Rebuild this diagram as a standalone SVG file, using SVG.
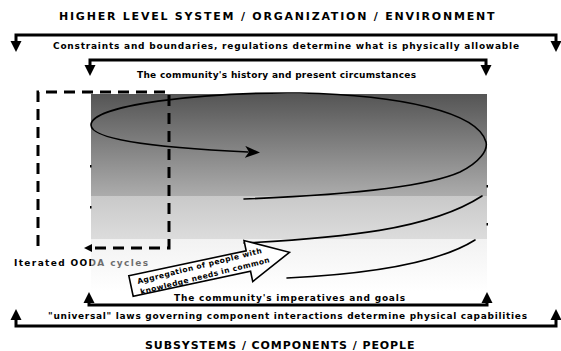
<svg xmlns="http://www.w3.org/2000/svg" width="561" height="351" viewBox="0 0 561 351">
<style>
.t{font-family:"DejaVu Sans","Liberation Sans",sans-serif;font-weight:bold;fill:#000}
.cap{font-family:"DejaVu Sans","Liberation Sans",sans-serif;font-weight:bold;font-size:11px;fill:#000;letter-spacing:1.5px}
.s{font-size:9px}
.a{font-size:7.5px}
.br{fill:none;stroke:#000;stroke-width:3;marker-start:url(#head);marker-end:url(#head)}
.sp{fill:none;stroke:#000;stroke-width:1.6;stroke-linecap:round}
.tick{fill:#000}
</style>
<defs>
<linearGradient id="g1" x1="0" y1="0" x2="0" y2="1">
<stop offset="0" stop-color="#555"/><stop offset="1" stop-color="#acacac"/>
</linearGradient>
<linearGradient id="g2" x1="0" y1="0" x2="0" y2="1">
<stop offset="0" stop-color="#c9c9c9"/><stop offset="1" stop-color="#dcdcdc"/>
</linearGradient>
<linearGradient id="g3" x1="0" y1="0" x2="0" y2="1">
<stop offset="0" stop-color="#e2e2e2" stop-opacity="0.45"/><stop offset="1" stop-color="#fff" stop-opacity="0.45"/>
</linearGradient>
<marker id="head" markerUnits="userSpaceOnUse" viewBox="0 0 10 10" refX="0" refY="5" markerWidth="11" markerHeight="12" orient="auto-start-reverse">
<path d="M0,0 L10,5 L0,10 z" fill="#000"/>
</marker>
<marker id="dhead" markerUnits="userSpaceOnUse" viewBox="0 0 10 10" refX="0" refY="5" markerWidth="11" markerHeight="8" orient="auto">
<path d="M0,0 L10,5 L0,10 z" fill="#000"/>
</marker>
<marker id="shead" markerUnits="userSpaceOnUse" viewBox="0 0 15 12" refX="3" refY="6" markerWidth="15" markerHeight="12" orient="auto">
<path d="M0,0 L15,6 L0,12 L4,6 z" fill="#000"/>
</marker>
</defs>
<rect width="561" height="351" fill="#fff"/>

<g id="field">
<rect x="91" y="94" width="396" height="102" fill="url(#g1)"/>
<rect x="91" y="196" width="396" height="43" fill="url(#g2)"/>
<rect class="tick" x="90" y="165" width="1.5" height="2.5"/>
<rect class="tick" x="90" y="206" width="1.5" height="2.5"/>
<rect class="tick" x="486.5" y="185" width="1.5" height="2.5"/>
<rect class="tick" x="486.5" y="223" width="1.5" height="2.5"/>
</g>

<g id="ooda">
<text class="t s" x="14" y="266" textLength="134" lengthAdjust="spacing">Iterated OODA cycles</text>
<rect x="91" y="239" width="396" height="52" fill="url(#g3)"/>
<path d="M38,246 V92 H169 V248 H92" fill="none" stroke="#000" stroke-width="3" stroke-dasharray="11 7" marker-end="url(#dhead)"/>
</g>

<g id="spiral">
<path class="sp" d="M287,278 C370,274 440,262 475,240"/>
<path class="sp" d="M244,243 C340,238 430,230 482,196"/>
<path class="sp" d="M244,199 C320,196 420,190 460,172 C480,162 488,150 486,142 C478,112 400,95 300,93 C200,92 91,105 91,125 C91,138 140,147 248,152" marker-end="url(#shead)"/>
</g>

<g id="aggregation">
<path transform="translate(131,286) rotate(-12)" d="M0,-10.5 H120 V-21 L162,0 L120,21 V10.5 H0 z" fill="#fff" stroke="#000" stroke-width="1.6" stroke-linejoin="miter"/>
<text class="t a" transform="translate(138,284) rotate(-14)" textLength="128" lengthAdjust="spacing">Aggregation of people with</text>
<text class="t a" transform="translate(141,294.5) rotate(-14)" textLength="133" lengthAdjust="spacing">knowledge needs in common</text>
</g>

<g id="connectors">
<path class="br" d="M16,41 V35 H556 V41"/>
<path class="br" d="M90,65 V60 H486 V65"/>
<path class="br" d="M89,303 V305 H487 V303"/>
<path class="br" d="M16,320 V326 H556 V320"/>
</g>

<g id="labels">
<text class="cap" x="59" y="20" textLength="437" lengthAdjust="spacing">HIGHER LEVEL SYSTEM / ORGANIZATION / ENVIRONMENT</text>
<text class="t s" x="53" y="49" textLength="466" lengthAdjust="spacing">Constraints and boundaries, regulations determine what is physically allowable</text>
<text class="t s" x="137" y="78" textLength="279" lengthAdjust="spacing">The community's history and present circumstances</text>
<text class="t s" x="174" y="301" textLength="231" lengthAdjust="spacing">The community's imperatives and goals</text>
<text class="t s" x="48" y="319" textLength="479" lengthAdjust="spacing">"universal" laws governing component interactions determine physical capabilities</text>
<text class="cap" x="145" y="349" textLength="271" lengthAdjust="spacing">SUBSYSTEMS / COMPONENTS / PEOPLE</text>
</g>
</svg>
